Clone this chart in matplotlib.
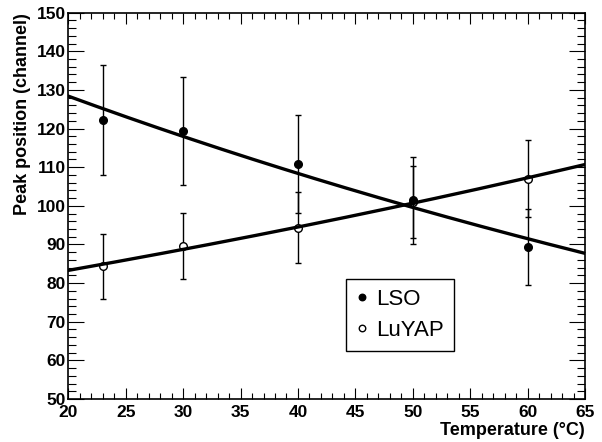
import numpy as np
import matplotlib.pyplot as plt
from matplotlib.ticker import MultipleLocator

plt.rcParams['font.family'] = ['Liberation Sans', 'DejaVu Sans']

temp = [23, 30, 40, 50, 60]
lso = [122.2, 119.3, 110.8, 101.4, 89.3]
lso_err = [14.2, 14.0, 12.7, 11.3, 9.9]
luyap = [84.3, 89.6, 94.3, 101.0, 107.0]
luyap_err = [8.4, 8.5, 9.2, 9.4, 10.0]

# expo fits exp(p0 + p1*T), parameters
lso_fit = [5.0245, -0.00847]
luyap_fit = [4.296, 0.00632]
fit_range = [20, 65]

fig = plt.figure(figsize=(6.02, 4.42), dpi=100)
ax = fig.add_axes([0.1135, 0.0973, 0.8583, 0.874])

tt = np.linspace(fit_range[0], fit_range[1], 200)
ax.plot(tt, np.exp(lso_fit[0] + lso_fit[1] * tt), color='k', lw=2.4, zorder=3)
ax.plot(tt, np.exp(luyap_fit[0] + luyap_fit[1] * tt), color='k', lw=2.4, zorder=3)

eb1 = ax.errorbar(temp, lso, yerr=lso_err, fmt='o', color='k', ms=5.5,
                  elinewidth=1, capsize=2.5, capthick=1, label='LSO', zorder=4)
eb2 = ax.errorbar(temp, luyap, yerr=luyap_err, fmt='o', mfc='white', mec='k',
                  mew=1, ecolor='k', ms=5.5, elinewidth=1, capsize=2.5,
                  capthick=1, label='LuYAP', zorder=2)

ax.set_xlim(20, 65)
ax.set_ylim(50, 150)
ax.xaxis.set_major_locator(MultipleLocator(5))
ax.xaxis.set_minor_locator(MultipleLocator(1))
ax.yaxis.set_major_locator(MultipleLocator(10))
ax.yaxis.set_minor_locator(MultipleLocator(2))
ax.tick_params(which='both', direction='in', top=True, right=True,
               width=0.8, labelsize=12.5)
ax.tick_params(axis='x', which='major', length=8.2, pad=4)
ax.tick_params(axis='x', which='minor', length=4.2)
ax.tick_params(axis='y', which='major', length=11.3, pad=2)
ax.tick_params(axis='y', which='minor', length=5.8)
for lab in ax.get_xticklabels() + ax.get_yticklabels():
    lab.set_fontweight('bold')
for sp in ax.spines.values():
    sp.set_linewidth(1.2)

ax.set_xlabel('Temperature (°C)', fontsize=13, fontweight='bold', loc='right')
ax.xaxis.set_label_coords(1.0, -0.059)
ax.set_ylabel('Peak position (channel)', fontsize=13, fontweight='bold', loc='top')
ax.yaxis.set_label_coords(-0.072, 1.0)

leg = ax.legend([eb1[0], eb2[0]], ['LSO', 'LuYAP'],
                loc='lower left', bbox_to_anchor=(0.537, 0.125), fontsize=16,
                frameon=True, fancybox=False, framealpha=1, edgecolor='k',
                borderpad=0.45, labelspacing=0.45, handlelength=0.6,
                handletextpad=0.3, borderaxespad=0, markerscale=0.85)
leg.get_frame().set_linewidth(1.0)

fig.savefig('out.png', dpi=100)
